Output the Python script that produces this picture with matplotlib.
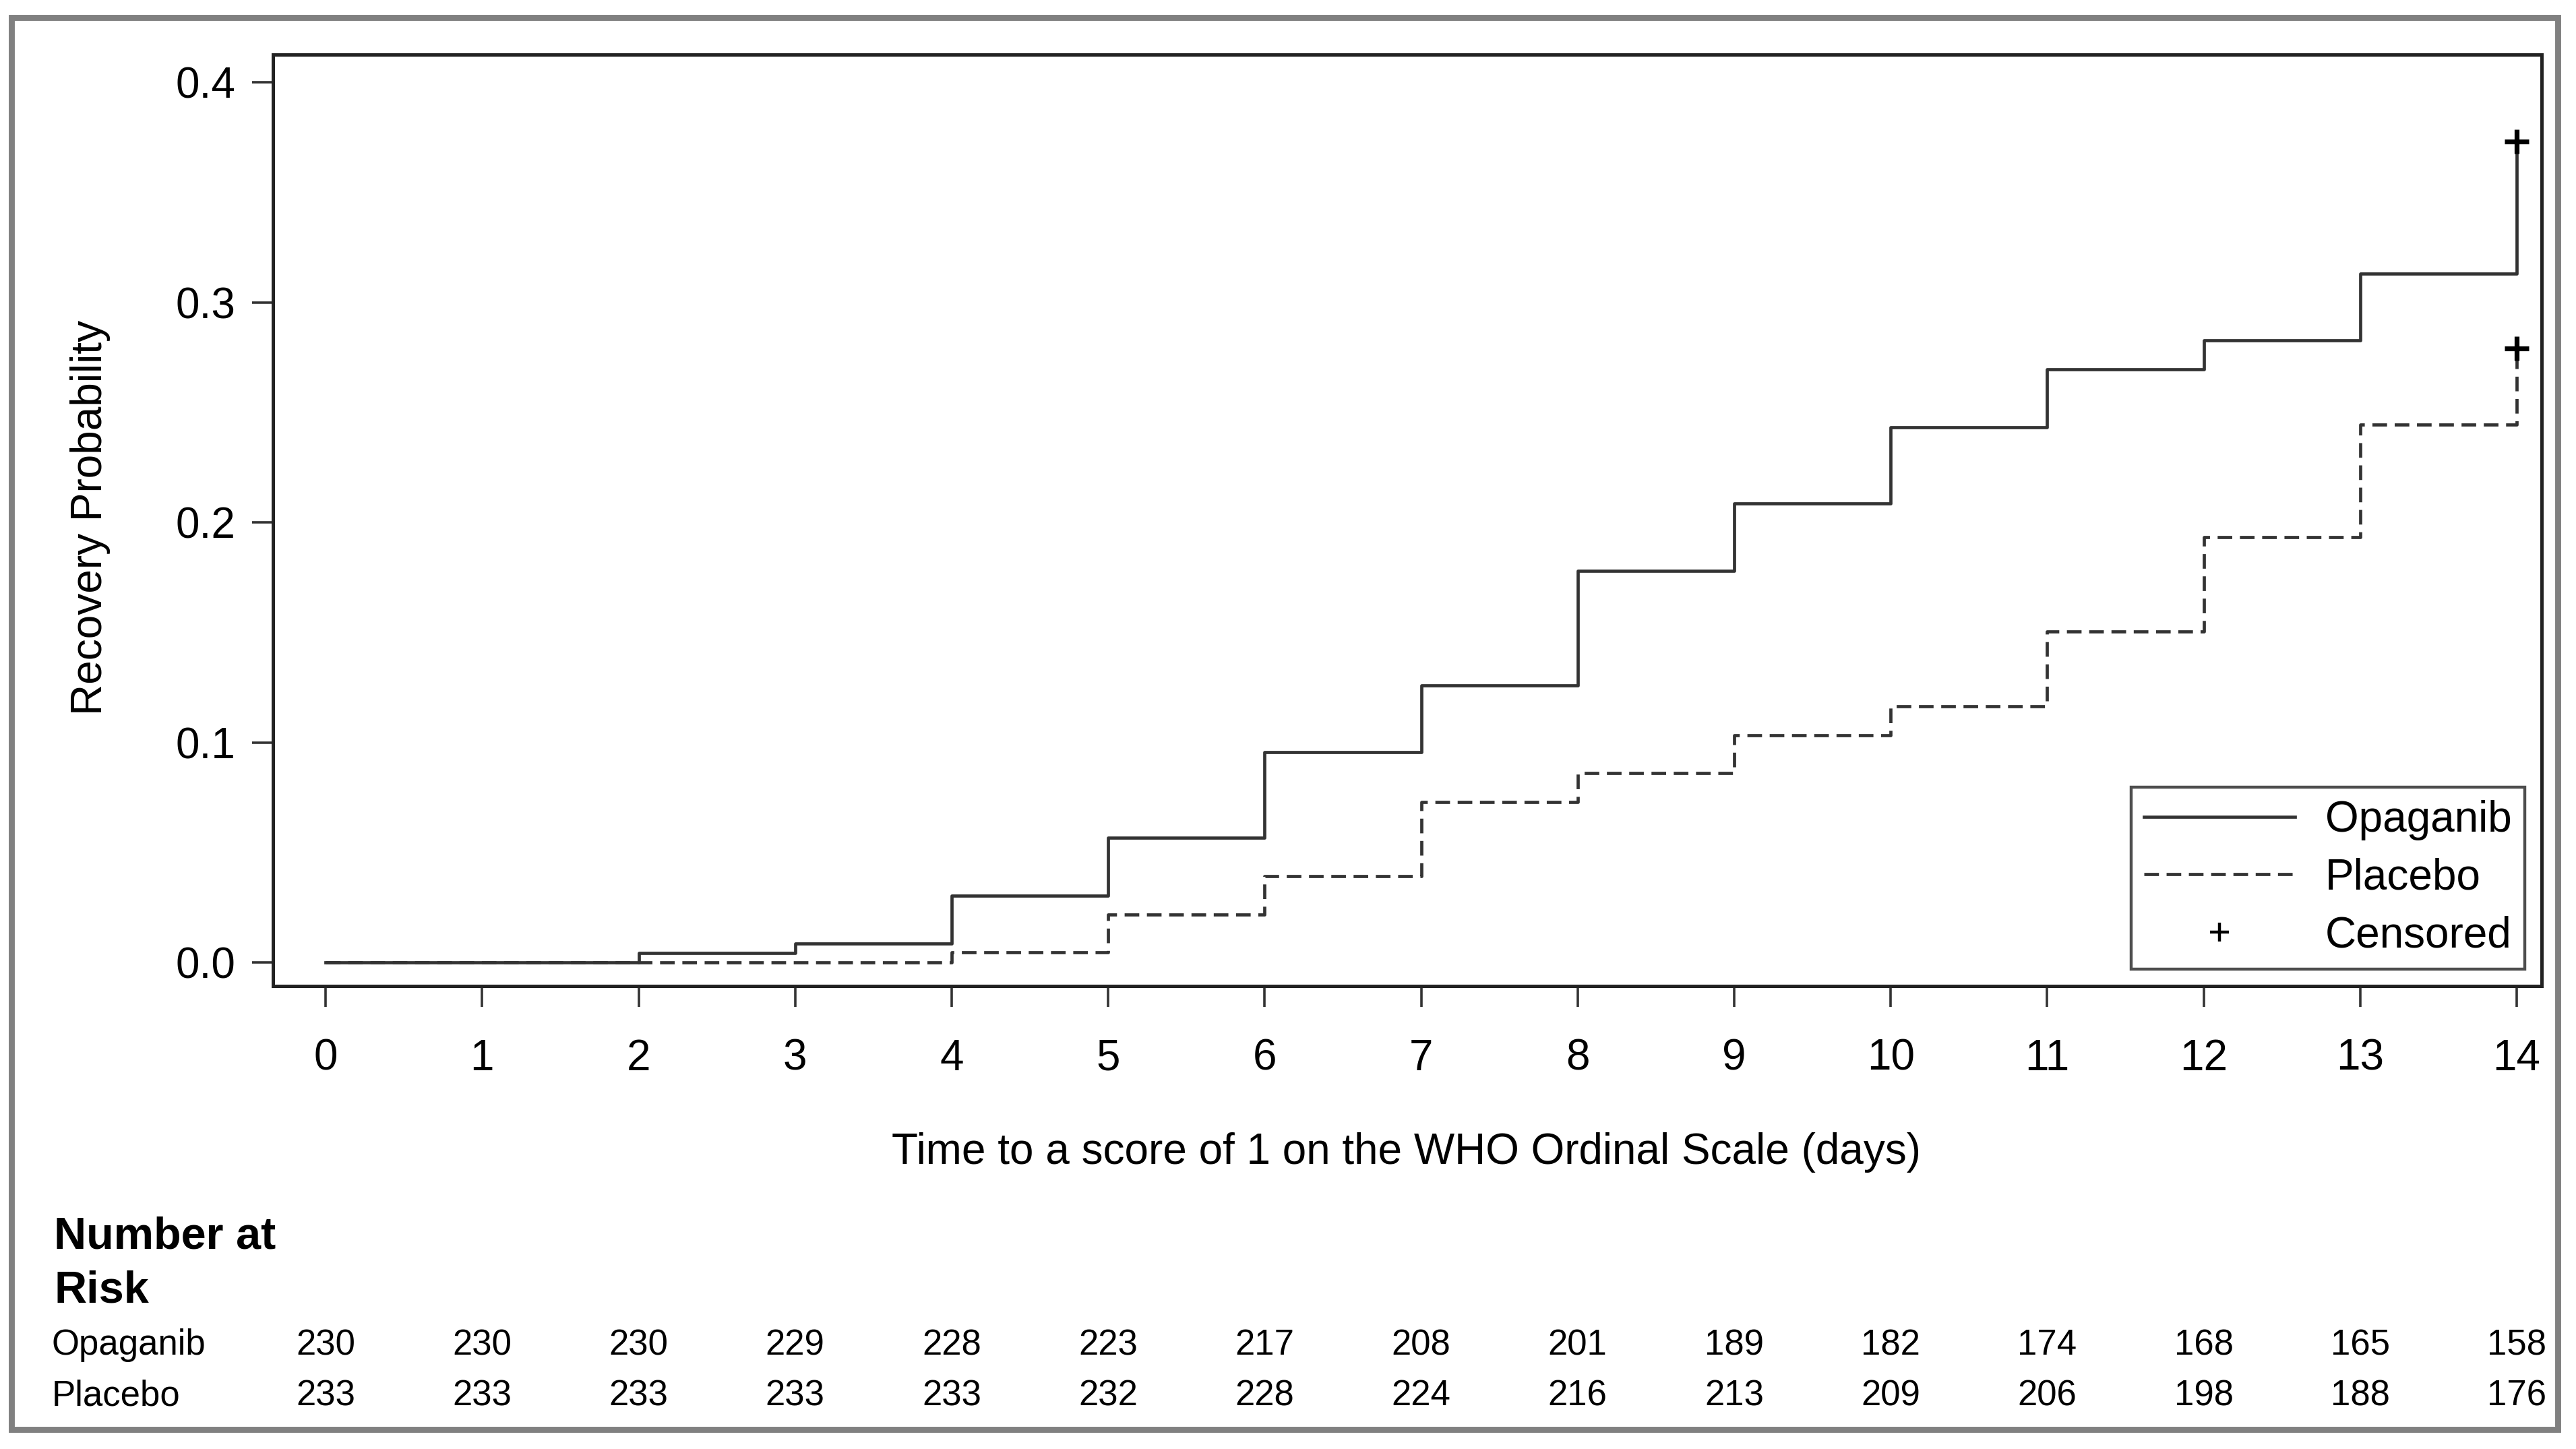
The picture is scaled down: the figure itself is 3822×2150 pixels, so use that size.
import matplotlib
matplotlib.use("Agg")
import matplotlib.pyplot as plt
import matplotlib.patches as patches
from matplotlib.lines import Line2D
from matplotlib.transforms import blended_transform_factory

plt.rcParams['font.family'] = ['Liberation Sans', 'DejaVu Sans']

# data
days = list(range(15))
opaganib = [0.0, 0.0, 0.0043, 0.0087, 0.0303, 0.0566, 0.0957, 0.126, 0.178,
            0.2086, 0.2432, 0.2695, 0.2828, 0.313, 0.373]
placebo = [0.0, 0.0, 0.0, 0.0, 0.0045, 0.0217, 0.0393, 0.0729, 0.0862,
           0.1032, 0.1164, 0.1505, 0.1934, 0.2446, 0.279]
censor_t = [14, 14]
censor_y = [0.373, 0.279]
yticks = [0.0, 0.1, 0.2, 0.3, 0.4]
groups = ['Opaganib', 'Placebo']
risk_opaganib = [230, 230, 230, 229, 228, 223, 217, 208, 201, 189, 182, 174, 168, 165, 158]
risk_placebo = [233, 233, 233, 233, 233, 232, 228, 224, 216, 213, 209, 206, 198, 188, 176]

fig = plt.figure(figsize=(19.11, 10.75), dpi=200)
ax = fig.add_axes([0.106, 0.3195, 0.8807, 0.6428])

lc = '#333333'
fs = 23
ax.step(days, opaganib, where='post', color=lc, lw=1.7, label='Opaganib')
ax.step(days, placebo, where='post', color=lc, lw=1.7,
        linestyle=(0, (4.6, 2.4)), label='Placebo')
ax.plot(censor_t, censor_y, linestyle='none', marker='+', color='black',
        markersize=13, markeredgewidth=2.6)

ax.set_xlim(-0.336, 14.16)
ax.set_ylim(-0.0107, 0.4126)
ax.set_xticks(days)
ax.set_yticks(yticks)
ax.set_yticklabels([f'{v:.1f}' for v in yticks])
ax.tick_params(axis='both', direction='out', length=11, width=1.3,
               labelsize=fs, color='#333333')
ax.tick_params(axis='x', pad=17)
ax.tick_params(axis='y', pad=9)
for s in ax.spines.values():
    s.set_linewidth(1.8)
    s.set_color('#222222')

fig.text(0.546, 0.2045, 'Time to a score of 1 on the WHO Ordinal Scale (days)',
         ha='center', va='center', fontsize=fs)
fig.text(0.035, 0.643, 'Recovery Probability', rotation=90,
         ha='center', va='center', fontsize=fs)

handles = [Line2D([], [], color=lc, lw=1.7),
           Line2D([], [], color=lc, lw=1.7, linestyle=(0, (4.6, 2.4))),
           Line2D([], [], color='black', linestyle='none', marker='+',
                  markersize=10, markeredgewidth=1.6)]
leg = ax.legend(handles, ['Opaganib', 'Placebo', 'Censored'], loc='lower right',
                fontsize=fs, frameon=True, fancybox=False, handlelength=3.5,
                handletextpad=0.7, labelspacing=0.4, borderpad=0.3,
                borderaxespad=0.4)
leg.get_frame().set_edgecolor('#222222')
leg.get_frame().set_linewidth(1.6)

# number at risk table
tr = blended_transform_factory(ax.transData, fig.transFigure)
fig.text(0.021, 0.1464, 'Number at', fontsize=24, fontweight='bold', va='center')
fig.text(0.021, 0.109, 'Risk', fontsize=24, fontweight='bold', va='center')
rows = [risk_opaganib, risk_placebo]
row_y = [0.0716, 0.0367]
for name, vals, yy in zip(groups, rows, row_y):
    fig.text(0.020, yy, name, fontsize=19, va='center')
    for d, v in zip(days, vals):
        ax.text(d, yy, str(v), transform=tr, ha='center', va='center',
                fontsize=19)

# grey frame around the whole picture
fig.patches.append(patches.Rectangle((0.0045, 0.0135), 0.9885, 0.9745,
                                     transform=fig.transFigure, fill=False,
                                     edgecolor='#808080', linewidth=3.2))

fig.savefig('out.png', dpi=200)
